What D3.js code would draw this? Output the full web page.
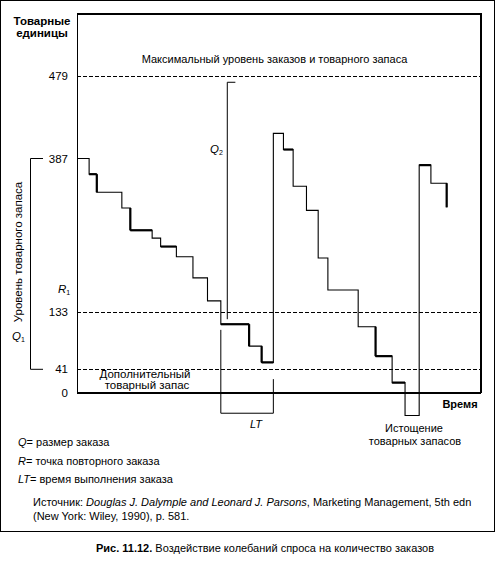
<!DOCTYPE html>
<html><head><meta charset="utf-8">
<script src="https://cdn.jsdelivr.net/npm/d3@7"></script>
<style>
body{margin:0;background:#fff;}
text{font-family:"Liberation Sans",Arial,sans-serif;fill:#000;}
</style></head>
<body><svg id="c" width="496" height="562"></svg>
<script>
// ---- data ----
const yTicks = [0, 41, 133, 387, 479];
const yTickPx = [393, 369.3, 311.7, 158.5, 76]; // schematic (non-linear) axis of the original
const stepTimes  = [0, 3.0, 4.9, 11.1, 13.2, 18.6, 20.7, 24.6, 28.7, 32.3, 35.6, 42.6, 45.7, 48.6, 51.1, 53.5, 56.8, 59.7, 62.1, 69.6, 73.9, 78.0, 81.2, 84.7, 87.6, 91.5];
const stepLevels = [387, 361, 331, 305, 268, 255, 241, 224, 189, 151, 113, 78, 52, 415, 397, 341, 301, 222, 169, 109, 62, 18, -39, 376, 346, 306];
const dashedLevels = [479, 133, 41];
const legendItems = [["Q", "= размер заказа"], ["R", "= точка повторного заказа"], ["LT", "= время выполнения заказа"]];

const svg = d3.select("#c");
const x = d3.scaleLinear().domain([0, 100]).range([77, 481]);
const y = d3.scaleLinear().domain(yTicks).range(yTickPx);

// outer frame
svg.append("rect").attr("x",0.5).attr("y",0.5).attr("width",494).attr("height",531)
  .attr("fill","none").attr("stroke","#000").attr("stroke-width",1);

// plot frame
svg.append("line").attr("x1",x(0)).attr("x2",x(100)).attr("y1",14).attr("y2",14).attr("stroke","#000").attr("stroke-width",2);
svg.append("line").attr("x1",x(100)).attr("x2",x(100)).attr("y1",13).attr("y2",y(0)).attr("stroke","#000").attr("stroke-width",2);
svg.append("line").attr("x1",x(0)+0.5).attr("x2",x(0)+0.5).attr("y1",13).attr("y2",y(0)).attr("stroke","#000").attr("stroke-width",1);

// dashed reference lines
svg.selectAll(".dl").data(dashedLevels).enter().append("line")
  .attr("x1",x(0)).attr("x2",x(100)).attr("y1",d=>Math.round(y(d))+0.5).attr("y2",d=>Math.round(y(d))+0.5)
  .attr("stroke","#000").attr("stroke-width",1).attr("stroke-dasharray","4,2");

// x axis (thick)
svg.append("line").attr("x1",x(0)).attr("x2",x(100)).attr("y1",y(0)).attr("y2",y(0)).attr("stroke","#000").attr("stroke-width",2.2);

// y tick labels
svg.selectAll(".yt").data(yTicks).enter().append("text")
  .attr("x",68).attr("y",d=>y(d)).attr("dy","0.36em").attr("text-anchor","end")
  .attr("font-size",11.5).text(d=>d);

// inventory step line
const pts = stepTimes.map((t,i)=>[t, stepLevels[i]]);
const line = d3.line().x(d=>x(d[0])).y(d=>y(d[1])).curve(d3.curveStepAfter);
svg.append("path").attr("d",line(pts)).attr("fill","none").attr("stroke","#000").attr("stroke-width",1.1);
// emphasised (heavier) runs as in the original print
const thickH = [1,4,6,10,12,14,20,21,23];
const thickV = [1,3,10,11,19,24];
thickH.forEach(i=>svg.append("line").attr("x1",x(stepTimes[i])).attr("x2",x(stepTimes[i+1]))
  .attr("y1",y(stepLevels[i])).attr("y2",y(stepLevels[i])).attr("stroke","#000").attr("stroke-width",2.2));
thickV.forEach(i=>svg.append("line").attr("x1",x(stepTimes[i+1])).attr("x2",x(stepTimes[i+1]))
  .attr("y1",y(stepLevels[i])).attr("y2",y(stepLevels[i+1])).attr("stroke","#000").attr("stroke-width",2.2));

// Q2 bracket
svg.append("path").attr("d",`M${x(39.2)},${y(472)}H${x(37.2)}V${y(121)}`).attr("fill","none").attr("stroke","#000");
// LT bracket
svg.append("path").attr("d",`M${x(35.6)},${y(104)}V${y(-35)}H${x(48.6)}V${y(24)}`).attr("fill","none").attr("stroke","#000");
// Q1 bracket (left)
svg.append("path").attr("d",`M43,${y(387)}H30.5V${y(41)}H43`).attr("fill","none").attr("stroke","#000");

// labels
const T = (tx,ty,s,opts={})=>{
  const t = svg.append("text").attr("x",tx).attr("y",ty).attr("font-size",opts.fs||11)
    .attr("text-anchor",opts.anchor||"start").text(s);
  if(opts.bold) t.attr("font-weight","bold");
  if(opts.italic) t.attr("font-style","italic");
  return t;
};
T(42,25,"Товарные",{anchor:"middle",bold:true,fs:11.5});
T(42,37,"единицы",{anchor:"middle",bold:true,fs:11.5});
T(274.5,63,"Максимальный уровень заказов и товарного запаса",{anchor:"middle"});
T(145,378,"Дополнительный",{anchor:"middle",fs:11.5});
T(147,389,"товарный запас",{anchor:"middle",fs:11.5});
T(460,408,"Время",{anchor:"middle",bold:true});
T(414,432,"Истощение",{anchor:"middle"});
T(415,445,"товарных запасов",{anchor:"middle"});
T(256,428,"LT",{anchor:"middle",italic:true});

function sub(tx,ty,a,b){
  const t = svg.append("text").attr("x",tx).attr("y",ty).attr("font-size",11.5);
  t.append("tspan").attr("font-style","italic").text(a);
  t.append("tspan").attr("font-size",7).attr("dy",2).text(b);
}
sub(210,153,"Q","2");
sub(12,340,"Q","1");
sub(58,293,"R","1");

svg.append("text").attr("transform","translate(22,252) rotate(-90)").attr("text-anchor","middle")
  .attr("font-size",11.5).text("Уровень товарного запаса");

// legend
legendItems.forEach((d,i)=>{
  const t = svg.append("text").attr("x",18).attr("y",446+i*18.5).attr("font-size",11);
  t.append("tspan").attr("font-style","italic").text(d[0]);
  t.append("tspan").text(d[1]);
});

// source
const s1 = svg.append("text").attr("x",33).attr("y",506).attr("font-size",11);
s1.append("tspan").text("Источник: ");
s1.append("tspan").attr("font-style","italic").text("Douglas J. Dalymple and Leonard J. Parsons");
s1.append("tspan").text(", Marketing Management, 5th edn");
T(33,520,"(New York: Wiley, 1990), p. 581.");

// caption
const c = svg.append("text").attr("x",265).attr("y",552).attr("text-anchor","middle").attr("font-size",11);
c.append("tspan").attr("font-weight","bold").text("Рис. 11.12.");
c.append("tspan").text(" Воздействие колебаний спроса на количество заказов");
</script></body></html>
